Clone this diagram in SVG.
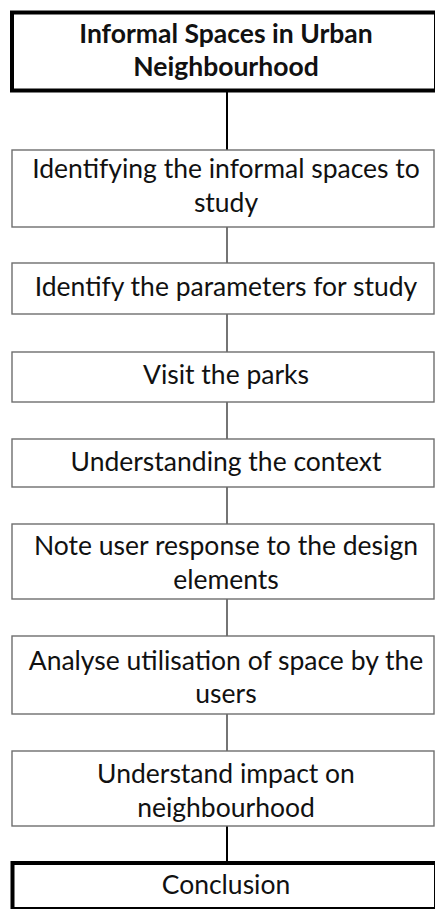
<svg xmlns="http://www.w3.org/2000/svg" width="435" height="909" viewBox="0 0 435 909">
<style>
.box{fill:#fff;stroke:#6e6e6e;stroke-width:1.4}
.thick{fill:#fff;stroke:#000;stroke-width:4}
.t{font-family:Lato,"Open Sans","Liberation Sans",sans-serif;font-size:26.5px;fill:#111;text-anchor:middle}
.b{font-weight:bold}
.c{stroke:#3a3a3a;stroke-width:1.4;fill:none}
.ck{stroke:#000;stroke-width:2;fill:none}
</style>
<rect width="435" height="909" fill="#fff"/>
<g id="connectors">
<line class="ck" x1="227" y1="92" x2="227" y2="150"/>
<line class="c" x1="227" y1="227" x2="227" y2="263"/>
<line class="c" x1="227" y1="314" x2="227" y2="352"/>
<line class="c" x1="227" y1="402" x2="227" y2="439"/>
<line class="c" x1="227" y1="487" x2="227" y2="524"/>
<line class="c" x1="227" y1="599" x2="227" y2="636"/>
<line class="c" x1="227" y1="714" x2="227" y2="751"/>
<line class="ck" x1="227" y1="826" x2="227" y2="862"/>
</g>
<g id="n1">
<rect class="thick" x="12" y="12.5" width="424" height="78"/>
<text class="t b" x="226" y="43">Informal Spaces in Urban</text>
<text class="t b" x="226" y="76">Neighbourhood</text>
</g>
<g id="n2">
<rect class="box" x="12" y="150" width="422" height="77"/>
<text class="t" x="226" y="178">Identifying the informal spaces to</text>
<text class="t" x="226" y="212">study</text>
</g>
<g id="n3">
<rect class="box" x="12" y="263" width="422" height="51"/>
<text class="t" x="226" y="296">Identify the parameters for study</text>
</g>
<g id="n4">
<rect class="box" x="12" y="352" width="422" height="50"/>
<text class="t" x="226" y="384">Visit the parks</text>
</g>
<g id="n5">
<rect class="box" x="12" y="439" width="422" height="48"/>
<text class="t" x="226" y="471">Understanding the context</text>
</g>
<g id="n6">
<rect class="box" x="12" y="524" width="422" height="75"/>
<text class="t" x="226" y="555">Note user response to the design</text>
<text class="t" x="226" y="589">elements</text>
</g>
<g id="n7">
<rect class="box" x="12" y="636" width="422" height="78"/>
<text class="t" x="226" y="670">Analyse utilisation of space by the</text>
<text class="t" x="226" y="703">users</text>
</g>
<g id="n8">
<rect class="box" x="12" y="751" width="422" height="75"/>
<text class="t" x="226" y="783">Understand impact on</text>
<text class="t" x="226" y="817">neighbourhood</text>
</g>
<g id="n9">
<rect class="thick" x="12.5" y="863" width="423.5" height="46"/>
<text class="t" x="226" y="894">Conclusion</text>
</g>
</svg>
